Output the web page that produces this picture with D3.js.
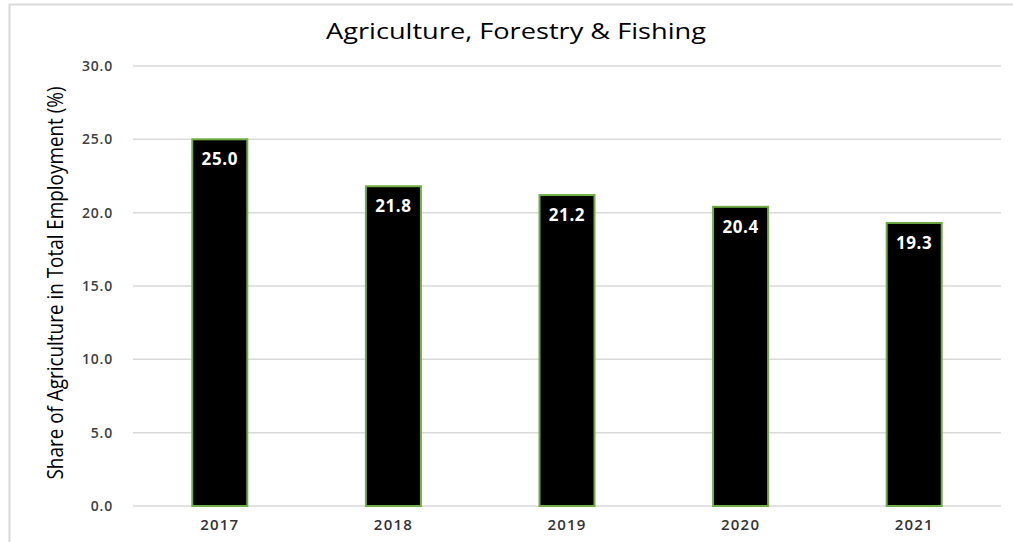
<!DOCTYPE html>
<html>
<head>
<meta charset="utf-8">
<script src="https://cdn.jsdelivr.net/npm/d3@7"></script>
<style>
  html, body { margin: 0; padding: 0; background: #fff; }
  svg { display: block; }
</style>
</head>
<body>
<svg id="chart" width="1013" height="542"></svg>
<script>
// Share of agriculture in total employment, by year
const years = ["2017", "2018", "2019", "2020", "2021"];
const shares = [25.0, 21.8, 21.2, 20.4, 19.3];
const yTicks = [0, 5, 10, 15, 20, 25, 30];
const chartTitle = "Agriculture, Forestry & Fishing";
const yTitle = "Share of Agriculture in Total Employment (%)";

const W = 1013, H = 542;
const margin = { top: 66, right: 12, bottom: 36, left: 133 };
const svg = d3.select("#chart");

// Outer chart frame
svg.append("rect")
  .attr("x", 9.5).attr("y", 4.5)
  .attr("width", W + 10).attr("height", H + 10)
  .attr("fill", "none").attr("stroke", "#d9d9d9").attr("stroke-width", 2);

const x = d3.scaleBand()
  .domain(years)
  .range([margin.left, W - margin.right])
  .paddingInner(0.683).paddingOuter(0.3415);

const y = d3.scaleLinear()
  .domain([0, 30])
  .range([H - margin.bottom, margin.top]);

// Horizontal gridlines
svg.append("g")
  .selectAll("line")
  .data(yTicks)
  .join("line")
  .attr("x1", margin.left).attr("x2", W - margin.right)
  .attr("y1", d => y(d)).attr("y2", d => y(d))
  .attr("stroke", "#d9d9d9").attr("stroke-width", 1.5);

// Y axis labels
const yAxis = svg.append("g")
  .attr("transform", `translate(${margin.left - 20},0)`)
  .call(d3.axisLeft(y).tickValues(yTicks).tickFormat(d3.format(".1f")).tickSize(0).tickPadding(0));
yAxis.select(".domain").remove();
yAxis.selectAll("text")
  .attr("font-family", "'Open Sans', sans-serif")
  .attr("font-size", 14).attr("font-weight", 600)
  .attr("letter-spacing", 0.8)
  .attr("fill", "#404040");

// X axis labels
const xAxis = svg.append("g")
  .attr("transform", `translate(0,${H - margin.bottom})`)
  .call(d3.axisBottom(x).tickSize(0).tickPadding(13));
xAxis.select(".domain").remove();
xAxis.selectAll("text")
  .attr("font-family", "'Open Sans', sans-serif")
  .attr("font-size", 15).attr("font-weight", 600)
  .attr("letter-spacing", 1.2)
  .attr("fill", "#333");

// Bars
svg.append("g")
  .selectAll("rect")
  .data(years.map((yr, i) => ({ yr, v: shares[i] })))
  .join("rect")
  .attr("x", d => x(d.yr))
  .attr("y", d => y(d.v))
  .attr("width", x.bandwidth())
  .attr("height", d => y(0) - y(d.v))
  .attr("fill", "#000")
  .attr("stroke", "#70ad47").attr("stroke-width", 2);

// Value labels inside the bar tops
svg.append("g")
  .selectAll("text")
  .data(years.map((yr, i) => ({ yr, v: shares[i] })))
  .join("text")
  .attr("x", d => x(d.yr) + x.bandwidth() / 2)
  .attr("y", d => y(d.v) + 26)
  .attr("text-anchor", "middle")
  .attr("font-family", "'Open Sans', sans-serif")
  .attr("font-size", 17).attr("font-weight", 700)
  .attr("letter-spacing", 0.6)
  .attr("fill", "#fff")
  .text(d => d.v.toFixed(1));

// Chart title
svg.append("text")
  .attr("x", 516).attr("y", 39)
  .attr("text-anchor", "middle")
  .attr("font-family", "'Open Sans', sans-serif")
  .attr("font-size", 21)
  .attr("fill", "#000")
  .attr("textLength", 380).attr("lengthAdjust", "spacingAndGlyphs")
  .text(chartTitle);

// Y axis title
svg.append("text")
  .attr("transform", "translate(63,283) rotate(-90)")
  .attr("text-anchor", "middle")
  .attr("font-family", "'Liberation Sans Narrow', 'Open Sans', sans-serif")
  .attr("font-size", 21)
  .attr("fill", "#000")
  .attr("textLength", 393).attr("lengthAdjust", "spacingAndGlyphs")
  .text(yTitle);
</script>
</body>
</html>
